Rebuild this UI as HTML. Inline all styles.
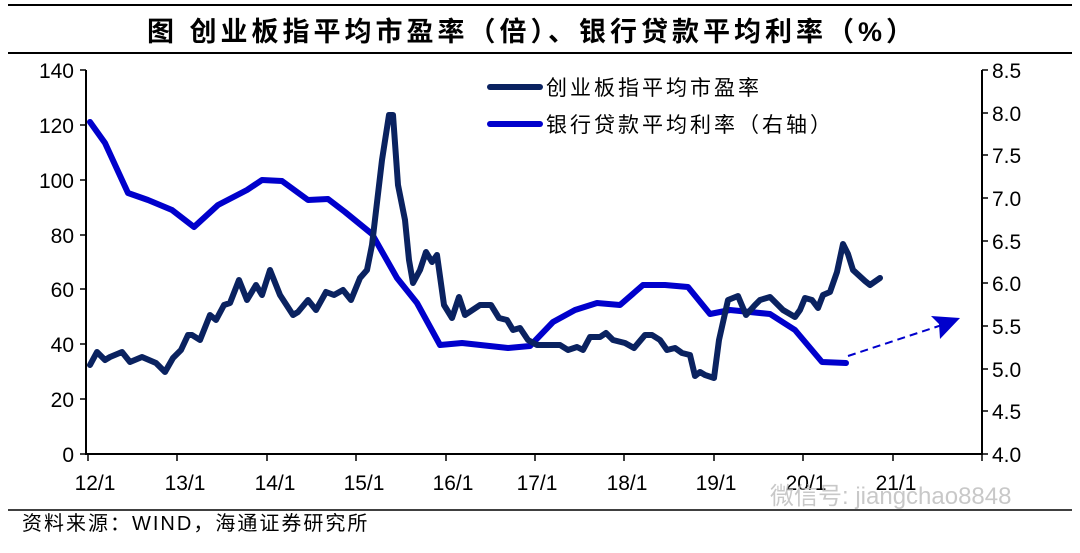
<!DOCTYPE html><html><head><meta charset="utf-8"><style>
body{margin:0;background:#fff;width:1080px;height:548px;overflow:hidden;font-family:"Liberation Sans","Noto Sans CJK SC",sans-serif}
</style></head><body>
<svg width="1080" height="548" xmlns="http://www.w3.org/2000/svg" font-family="Liberation Sans, Noto Sans CJK SC, sans-serif">
<line x1="8" y1="5" x2="1072" y2="5" stroke="#000" stroke-width="2"/>
<text x="532" y="41" font-size="27" font-weight="bold" text-anchor="middle" letter-spacing="4">图 创业板指平均市盈率（倍）、银行贷款平均利率（%）</text>
<line x1="8" y1="53" x2="1072" y2="53" stroke="#000" stroke-width="2"/>
<g stroke="#000" stroke-width="2">
<line x1="86" y1="70" x2="86" y2="455"/>
<line x1="982" y1="70" x2="982" y2="455"/>
<line x1="86" y1="454" x2="982" y2="454"/>
</g>
<g stroke="#000" stroke-width="1.5">
<path d="M80 70h6M80 125h6M80 180h6M80 235h6M80 289h6M80 344h6M80 399h6M80 454h6"/>
<path d="M982 70h6M982 113h6M982 155h6M982 198h6M982 241h6M982 283h6M982 326h6M982 369h6M982 411h6M982 454h6"/>
<path d="M88 454v7M177 454v7M267 454v7M356 454v7M446 454v7M535 454v7M624 454v7M714 454v7M803 454v7M893 454v7M982 454v7"/>
</g>
<g font-size="21" text-anchor="end">
<text x="74" y="78">140</text><text x="74" y="133">120</text><text x="74" y="188">100</text><text x="74" y="243">80</text><text x="74" y="297">60</text><text x="74" y="352">40</text><text x="74" y="407">20</text><text x="74" y="462">0</text>
</g>
<g font-size="21">
<text x="992" y="78">8.5</text><text x="992" y="121">8.0</text><text x="992" y="163">7.5</text><text x="992" y="206">7.0</text><text x="992" y="249">6.5</text><text x="992" y="291">6.0</text><text x="992" y="334">5.5</text><text x="992" y="377">5.0</text><text x="992" y="419">4.5</text><text x="992" y="462">4.0</text>
</g>
<g font-size="21" text-anchor="middle">
<text x="95" y="490">12/1</text><text x="185" y="490">13/1</text><text x="275" y="490">14/1</text><text x="364" y="490">15/1</text><text x="453" y="490">16/1</text><text x="537" y="490">17/1</text><text x="627" y="490">18/1</text><text x="716" y="490">19/1</text><text x="806" y="490">20/1</text><text x="896" y="490">21/1</text>
</g>
<text x="770" y="504" font-size="24" fill="#bbb" opacity="0.8">微信号: jiangchao8848</text>
<line x1="8" y1="510" x2="1072" y2="510" stroke="#000" stroke-width="1.5"/>
<text x="22" y="530" font-size="20" letter-spacing="2">资料来源：WIND，海通证券研究所</text>
<polyline fill="none" stroke="#0000cc" stroke-width="6" stroke-linejoin="round" stroke-linecap="round" points="90,122 105,143 128,193 148,200 172,210 194,227 218,205 247,190 262,180 282,181 308,200 328,199 345,212 372,234 397,278 417,303 440,345 462,343 508,348 530,346 553,322 575,310 597,303 620,305 643,285 665,285 688,287 710,314 730,310 770,314 795,330 822,362 846,363"/>
<polyline fill="none" stroke="#0a2260" stroke-width="6" stroke-linejoin="round" stroke-linecap="round" points="90,365 97,352 105,360 110,357 122,352 130,362 142,357 156,363 165,372 173,358 181,350 188,335 192,335 200,340 210,315 216,320 224,305 230,303 239,280 247,300 256,285 262,295 270,270 280,295 293,315 298,312 308,300 316,310 326,292 334,295 343,290 351,300 360,278 367,270 372,245 382,160 389,115 393,115 398,185 405,220 409,260 413,283 420,270 426,252 432,262 437,255 444,305 452,318 459,297 465,315 480,305 491,305 499,318 507,320 513,330 520,328 528,340 537,345 550,345 560,345 568,350 577,347 583,350 590,337 600,337 606,333 613,340 625,343 634,348 645,335 652,335 660,340 667,350 675,348 682,353 690,355 695,376 700,372 705,375 714,378 719,340 728,300 738,296 746,315 755,305 760,300 770,297 777,304 783,310 795,317 800,310 805,298 812,300 818,308 823,295 830,292 837,272 843,244 848,254 853,270 865,281 870,285 880,278"/>
<line x1="848" y1="356" x2="945" y2="324" stroke="#0000cc" stroke-width="2" stroke-dasharray="8,5"/>
<polygon points="960,318 931,316 939,324 940,339" fill="#0000cc"/>
<line x1="490" y1="87" x2="540" y2="87" stroke="#0a2260" stroke-width="6" stroke-linecap="round"/>
<text x="546" y="95" font-size="21" letter-spacing="3">创业板指平均市盈率</text>
<line x1="490" y1="124" x2="540" y2="124" stroke="#0000cc" stroke-width="6" stroke-linecap="round"/>
<text x="546" y="132" font-size="21" letter-spacing="3">银行贷款平均利率（右轴）</text>
</svg>
</body></html>
